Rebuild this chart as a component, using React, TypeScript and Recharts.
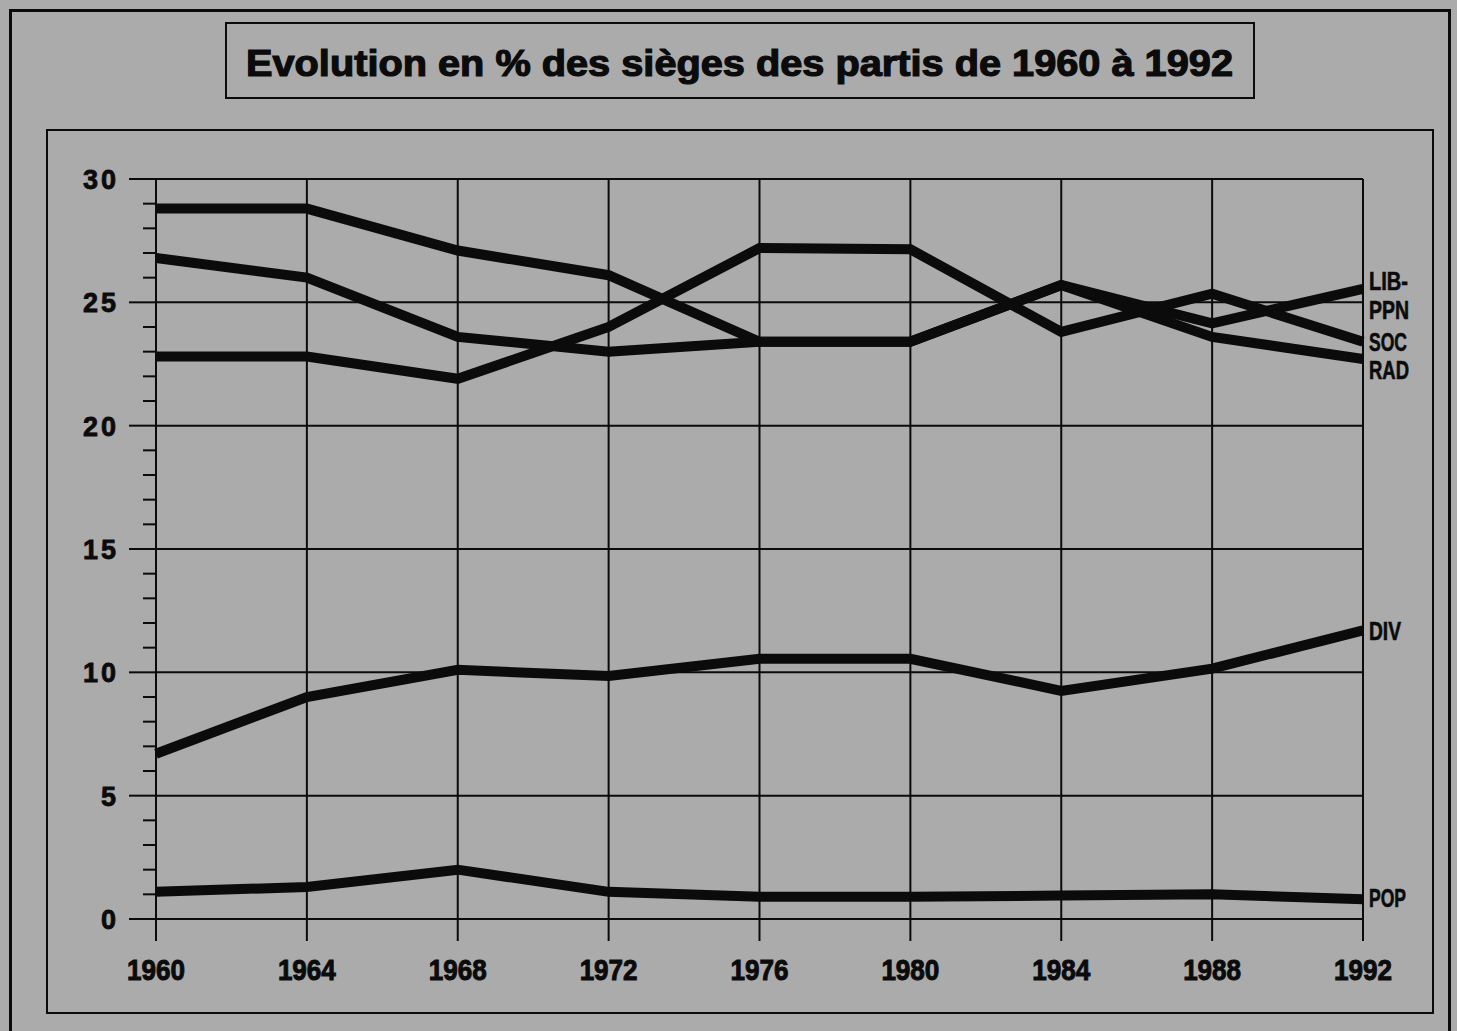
import { CartesianGrid, Line, LineChart, XAxis, YAxis } from "recharts";

// seats share (%) per party
const YEARS = [1960, 1964, 1968, 1972, 1976, 1980, 1984, 1988, 1992];
const LIB_PPN = [26.8, 26.0, 23.6, 23.0, 23.4, 23.4, 25.7, 24.15, 25.55];
const SOC = [22.8, 22.8, 21.9, 24.0, 27.2, 27.15, 23.8, 25.35, 23.4];
const RAD = [28.8, 28.8, 27.1, 26.1, 23.4, 23.4, 25.7, 23.6, 22.7];
const DIV = [6.7, 9.0, 10.1, 9.85, 10.55, 10.55, 9.25, 10.15, 11.7];
const POP = [1.1, 1.3, 2.0, 1.1, 0.9, 0.9, 0.95, 1.0, 0.8];

const Y_TICKS = [0, 1, 2, 3, 4, 5, 6, 7, 8, 9, 10, 11, 12, 13, 14, 15, 16, 17, 18, 19, 20, 21, 22, 23, 24, 25, 26, 27, 28, 29, 30];
const Y_MAJOR = [0, 5, 10, 15, 20, 25, 30];

const TITLE = "Evolution en % des sièges des partis de 1960 à 1992";

const END_LABELS: Record<string, string[]> = {
  lib: ["LIB-", "PPN"],
  soc: ["SOC"],
  rad: ["RAD"],
  div: ["DIV"],
  pop: ["POP"],
};

// label tweaks (vertical offset from the end point, squeezed text width)
const LABEL_DY: Record<string, number> = { lib: 1, soc: 9, rad: 20, div: 10, pop: 8 };
const LABEL_W: Record<string, number> = { "LIB-": 39, PPN: 40, SOC: 38, RAD: 40, DIV: 32, POP: 37 };

const FONT = "'Liberation Sans', Arial, Helvetica, sans-serif";
const INK = "#0b0b0b";
const PAPER = "#ababab";

const data = YEARS.map((year, i) => ({
  year,
  lib: LIB_PPN[i],
  soc: SOC[i],
  rad: RAD[i],
  div: DIV[i],
  pop: POP[i],
}));

const YTick = (props: any) => {
  const { x, y, payload } = props;
  const v = payload.value;
  const major = v % 5 === 0;
  return (
    <g>
      <line x1={x - (major ? 27 : 13)} x2={x} y1={y} y2={y} stroke={INK} strokeWidth={2} />
      {major && (
        <text
          x={x - 37}
          y={y + 10}
          textAnchor="end"
          fontFamily={FONT}
          fontWeight="bold"
          fontSize={27}
          letterSpacing={3}
          fill={INK}
          stroke={INK}
          strokeWidth={0.8}
        >
          {v}
        </text>
      )}
    </g>
  );
};

const XTick = (props: any) => {
  const { x, y, payload } = props;
  return (
    <text
      x={x - 29}
      y={y + 39}
      fontFamily={FONT}
      fontWeight="bold"
      fontSize={30}
      textLength={58}
      lengthAdjust="spacingAndGlyphs"
      fill={INK}
      stroke={INK}
      strokeWidth={1}
    >
      {payload.value}
    </text>
  );
};

const endLabel = (key: string) => (props: any) => {
  const { x, y, index } = props;
  if (index !== YEARS.length - 1) return <g key={`${key}-${index}`} />;
  return (
    <g key={`${key}-end`}>
      {END_LABELS[key].map((t, i) => (
        <text
          key={t}
          x={x + 6}
          y={y + LABEL_DY[key] + i * 29}
          fontFamily={FONT}
          fontWeight="bold"
          fontSize={25}
          textLength={LABEL_W[t]}
          lengthAdjust="spacingAndGlyphs"
          fill={INK}
          stroke={INK}
          strokeWidth={0.6}
        >
          {t}
        </text>
      ))}
    </g>
  );
};

const SERIES = ["rad", "lib", "soc", "div", "pop"];

export default function App() {
  return (
    <div
      style={{
        position: "absolute",
        left: 0,
        top: 0,
        width: 1457,
        height: 1031,
        background: PAPER,
        overflow: "hidden",
      }}
    >
      <div
        style={{
          position: "absolute",
          left: 9,
          top: 9,
          width: 1436,
          height: 1030,
          border: `3px solid ${INK}`,
        }}
      />
      <div
        style={{
          position: "absolute",
          left: 46,
          top: 129,
          width: 1384,
          height: 881,
          border: `2px solid ${INK}`,
        }}
      />
      <div
        style={{
          position: "absolute",
          left: 225,
          top: 22,
          width: 1026,
          height: 73,
          border: `2px solid ${INK}`,
        }}
      />
      <svg
        width={1457}
        height={110}
        style={{ position: "absolute", left: 0, top: 0 }}
      >
        <text
          x={246}
          y={76}
          fontFamily={FONT}
          fontWeight="bold"
          fontSize={36}
          textLength={987}
          lengthAdjust="spacingAndGlyphs"
          fill={INK}
          stroke={INK}
          strokeWidth={1.2}
        >
          {TITLE}
        </text>
      </svg>
      <div style={{ position: "absolute", left: 0, top: 0 }}>
        <LineChart
          width={1457}
          height={1031}
          data={data}
          margin={{ top: 179, right: 94, bottom: 82, left: 116 }}
        >
          <CartesianGrid
            stroke={INK}
            strokeWidth={2}
            horizontalValues={Y_MAJOR}
            verticalValues={YEARS}
          />
          <XAxis
            dataKey="year"
            type="number"
            domain={[1960, 1992]}
            ticks={YEARS}
            height={30}
            tickSize={22}
            tickMargin={0}
            tickLine={{ stroke: INK, strokeWidth: 2 }}
            axisLine={{ stroke: INK, strokeWidth: 2 }}
            tick={<XTick />}
            interval={0}
          />
          <YAxis
            type="number"
            domain={[0, 30]}
            ticks={Y_TICKS}
            width={40}
            tickSize={0}
            tickMargin={0}
            tickLine={false}
            axisLine={{ stroke: INK, strokeWidth: 2 }}
            tick={<YTick />}
            interval={0}
          />
          {SERIES.map((key) => (
            <Line
              key={key}
              dataKey={key}
              type="linear"
              stroke={INK}
              strokeWidth={10}
              dot={false}
              activeDot={false}
              isAnimationActive={false}
              label={endLabel(key)}
            />
          ))}
        </LineChart>
      </div>
    </div>
  );
}
